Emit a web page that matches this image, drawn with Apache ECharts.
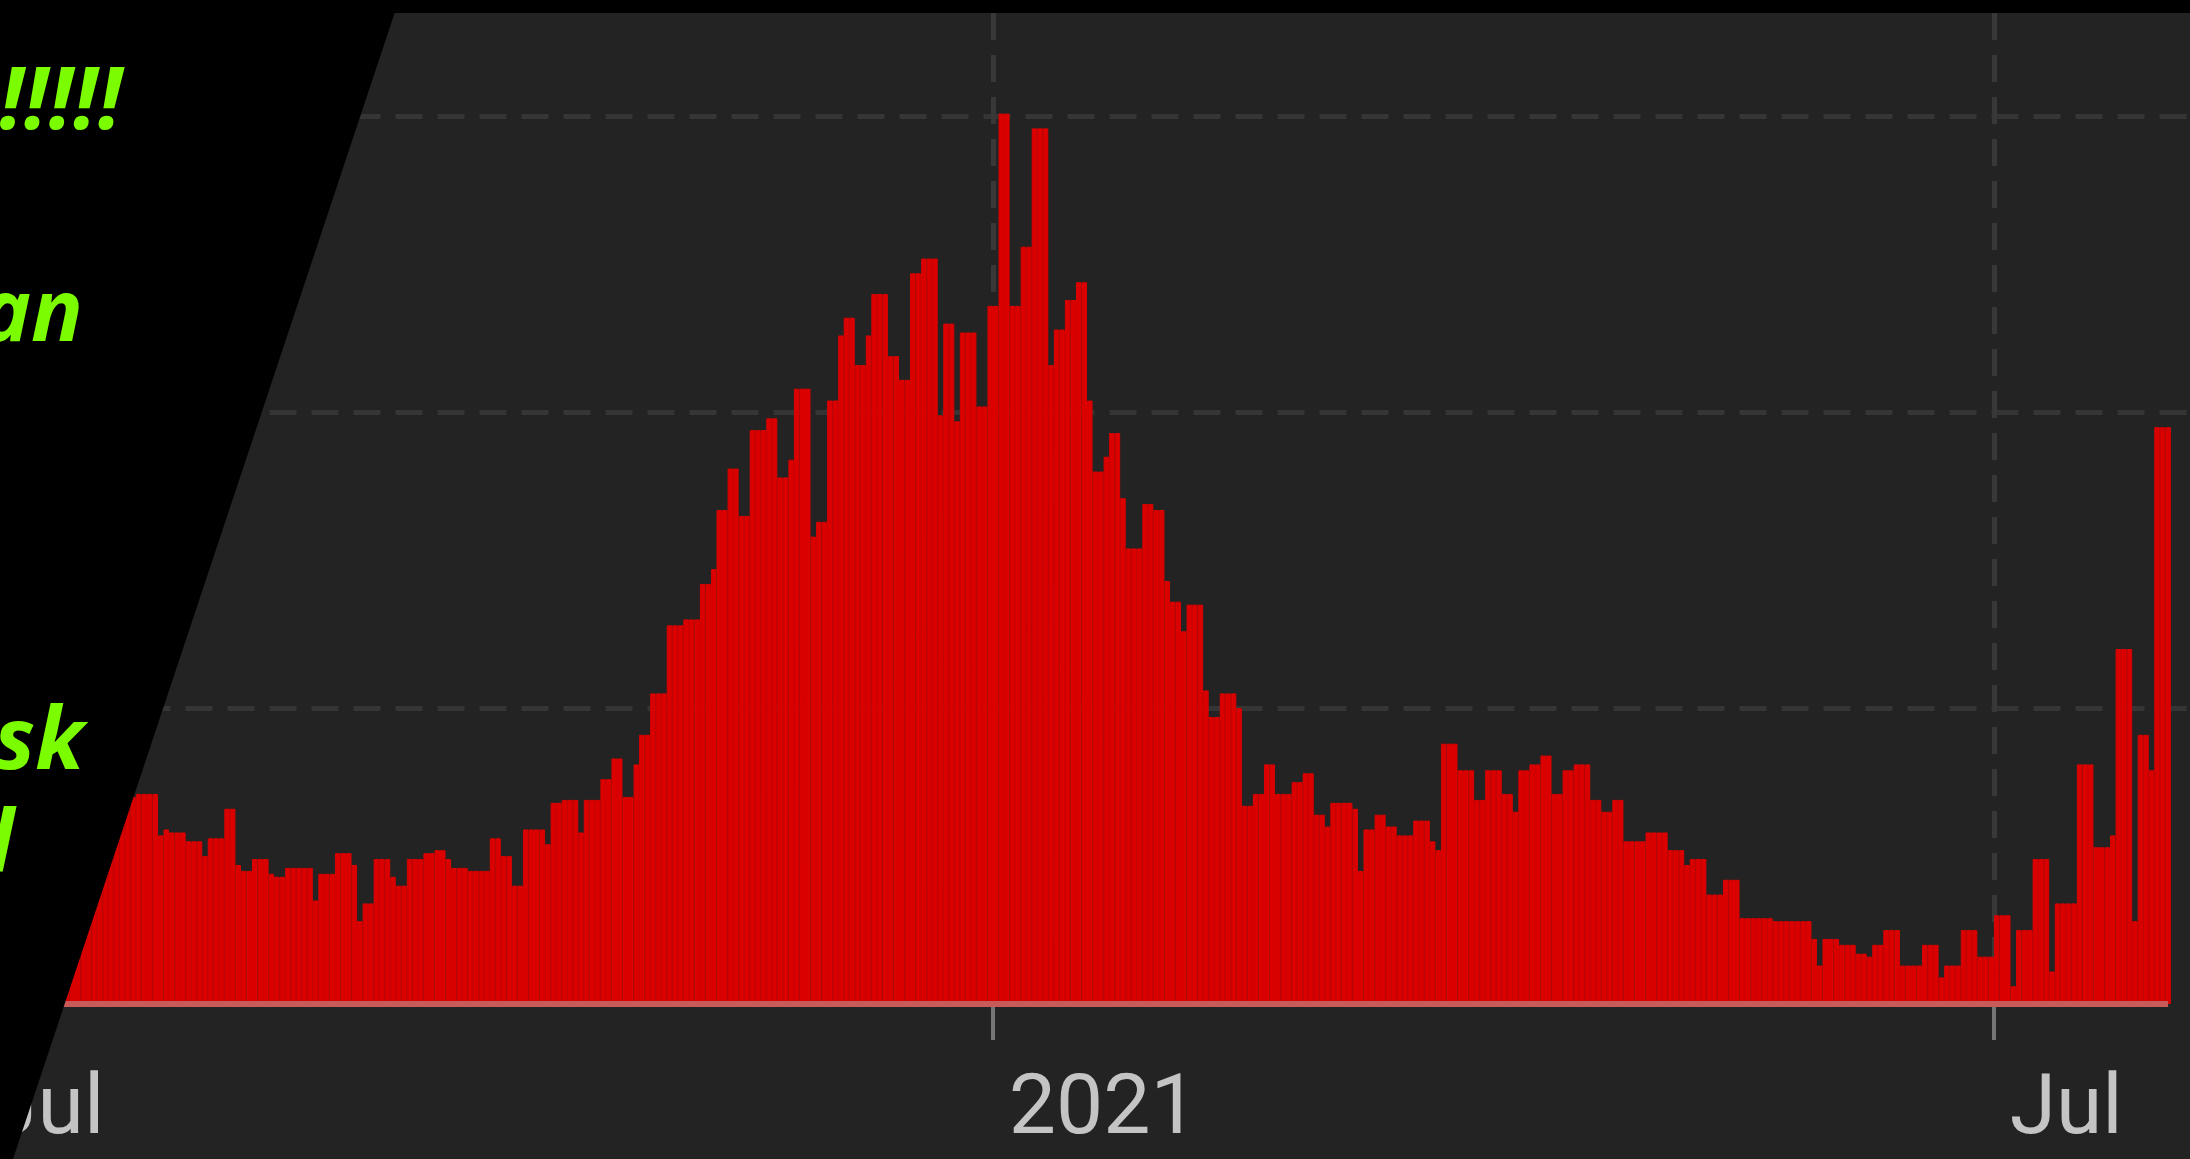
<!DOCTYPE html>
<html>
<head>
<meta charset="utf-8">
<title>Daily cases</title>
<script src="https://cdn.jsdelivr.net/npm/echarts@6/dist/echarts.min.js"></script>
<style>
  html, body { margin: 0; padding: 0; background: #232323; }
  #chart-box { width: 2190px; height: 1159px; }
</style>
</head>
<body>
<div id="chart-box"></div>
<script>
// daily new cases in thousands, one array per month
var jul2020 = [52,50,55,56,48,44,50,60,58,62,64,66,60,56,65,67,70,74,70,64,62,66,70,72,74,70,66,68,70,71,71];
var aug2020 = [71,71,57,59,58,58,58,55,55,55,50,56,56,56,66,66,47,45,45,49,49,49,44,43,43,46,46,46,46,46,35];
var sep2020 = [44,44,44,51,51,51,47,28,34,34,49,49,49,43,40,40,49,49,49,51,51,52,52,49,46,46,46,45,45,45];
var oct2020 = [45,56,56,50,50,40,40,59,59,59,59,54,68,68,69,69,69,58,69,69,69,76,76,83,83,70,70,81,91,91,105];
var nov2020 = [105,105,128,128,128,130,130,130,142,142,147,167,167,181,181,165,165,194,194,194,198,198,178,178,184,208,208,208,158,163];
var dec2020 = [163,204,204,226,232,232,216,216,226,240,240,240,219,219,211,211,247,247,252,252,252,199,230,230,197,227,227,227,202,202,236];
var jan2021 = [236,301,301,236,236,256,256,296,296,296,216,228,228,238,238,244,244,204,180,180,185,193,193,171,154,154,154,169,169,167,167];
var feb2021 = [143,136,136,126,135,135,135,106,97,97,105,105,105,100,67,67,71,71,81,81,71,71,71,75,75,78,78,64];
var mar2021 = [64,60,68,68,68,68,66,45,59,59,64,64,60,60,57,57,57,62,62,62,55,52,88,88,88,79,79,79,69,69,79];
var apr2021 = [79,79,71,71,65,79,79,81,81,84,84,71,71,79,79,81,81,81,69,69,65,65,69,69,55,55,55,55,58,58];
var may2021 = [58,58,52,52,52,47,49,49,49,37,37,37,42,42,42,29,29,29,29,29,29,28,28,28,28,28,28,28,22,13,22];
var jun2021 = [22,22,20,20,20,17,17,16,20,20,25,25,25,13,13,13,13,20,20,20,9,13,13,13,25,25,25,16,16,16];
var jul2021 = [30,30,30,6,25,25,25,49,49,49,11,34,34,34,34,81,81,81,53,53,53,57,120,120,120,28,91,91,79,195,195];
var aug2021 = [195];

var startDate = '2020-07-01';
var tickDates = ['2020-07-01', '2021-01-01', '2021-07-01'];
var tickLabels = ['Jul', '2021', 'Jul'];
var emptyDays = 4; // axis runs a few days past the last bar, off the right edge

var cases = [].concat(jul2020, aug2020, sep2020, oct2020, nov2020, dec2020,
    jan2021, feb2021, mar2021, apr2021, may2021, jun2021, jul2021, aug2021);

// one category per day
var days = [];
var d0 = new Date(startDate + 'T00:00:00Z');
for (var i = 0; i < cases.length + emptyDays; i++) {
    var d = new Date(d0.getTime() + i * 86400000);
    days.push(d.toISOString().slice(0, 10));
}

function isTick(index, value) {
    return tickDates.indexOf(value) !== -1;
}

var myChart = echarts.init(document.getElementById('chart-box'));

var option = {
    backgroundColor: '#232323',
    animation: false,
    grid: {
        left: -24.5,
        right: -3,
        top: 13,
        bottom: 155,
        outerBoundsMode: 'none'
    },
    xAxis: {
        type: 'category',
        data: days,
        boundaryGap: true,
        axisLine: { show: false },
        axisTick: {
            show: true,
            interval: isTick,
            length: 36,
            lineStyle: { color: '#757575', width: 4 }
        },
        splitLine: {
            show: true,
            interval: isTick,
            lineStyle: { color: '#383838', width: 5, type: [27, 15] }
        },
        axisLabel: {
            show: true,
            interval: isTick,
            formatter: function (value) {
                return tickLabels[tickDates.indexOf(value)] || '';
            },
            color: '#c4c4c4',
            fontFamily: 'Roboto, sans-serif',
            fontSize: 84,
            align: 'left',
            padding: [0, 0, 0, 13],
            margin: 66
        }
    },
    yAxis: {
        type: 'value',
        min: 0,
        max: 335,
        interval: 100,
        axisLine: { show: false },
        axisTick: { show: false },
        axisLabel: { show: false },
        splitLine: {
            show: true,
            showMinLine: false,
            showMaxLine: false,
            lineStyle: { color: '#353535', width: 5, type: [27, 15] }
        }
    },
    series: [{
        name: 'cases',
        type: 'bar',
        data: cases,
        barCategoryGap: '0%',
        barGap: 0,
        itemStyle: {
            color: '#da0000',
            borderColor: '#da0000',
            borderWidth: 1
        },
        markLine: {
            silent: true,
            symbol: 'none',
            animation: false,
            label: { show: false },
            lineStyle: { color: '#c85a5a', width: 6, type: 'solid' },
            data: [[{ coord: [0, 0] }, { coord: [cases.length - 1, 0] }]]
        }
    }],
    graphic: [
        {
            type: 'rect',
            z: 100,
            shape: { x: 0, y: 0, width: 2190, height: 13 },
            style: { fill: '#000' }
        },
        {
            type: 'polygon',
            z: 100,
            shape: { points: [[0, 0], [399, 0], [13, 1159], [0, 1159]] },
            style: { fill: '#000' }
        },
        {
            type: 'text', z: 101, x: 122, y: 104,
            style: { text: '!!!!!', fill: '#7cfc00', font: 'italic bold 86px "Open Sans", "Noto Sans", sans-serif', textAlign: 'right', textVerticalAlign: 'middle' }
        },
        {
            type: 'text', z: 101, x: 83, y: 316,
            style: { text: 'an', fill: '#7cfc00', font: 'italic bold 86px "Open Sans", "Noto Sans", sans-serif', textAlign: 'right', textVerticalAlign: 'middle' }
        },
        {
            type: 'text', z: 101, x: 84, y: 744,
            style: { text: 'sk', fill: '#7cfc00', font: 'italic bold 86px "Open Sans", "Noto Sans", sans-serif', textAlign: 'right', textVerticalAlign: 'middle' }
        },
        {
            type: 'text', z: 101, x: 14, y: 847,
            style: { text: 'l', fill: '#7cfc00', font: 'italic bold 86px "Open Sans", "Noto Sans", sans-serif', textAlign: 'right', textVerticalAlign: 'middle' }
        }
    ]
};

myChart.setOption(option);
</script>
</body>
</html>
